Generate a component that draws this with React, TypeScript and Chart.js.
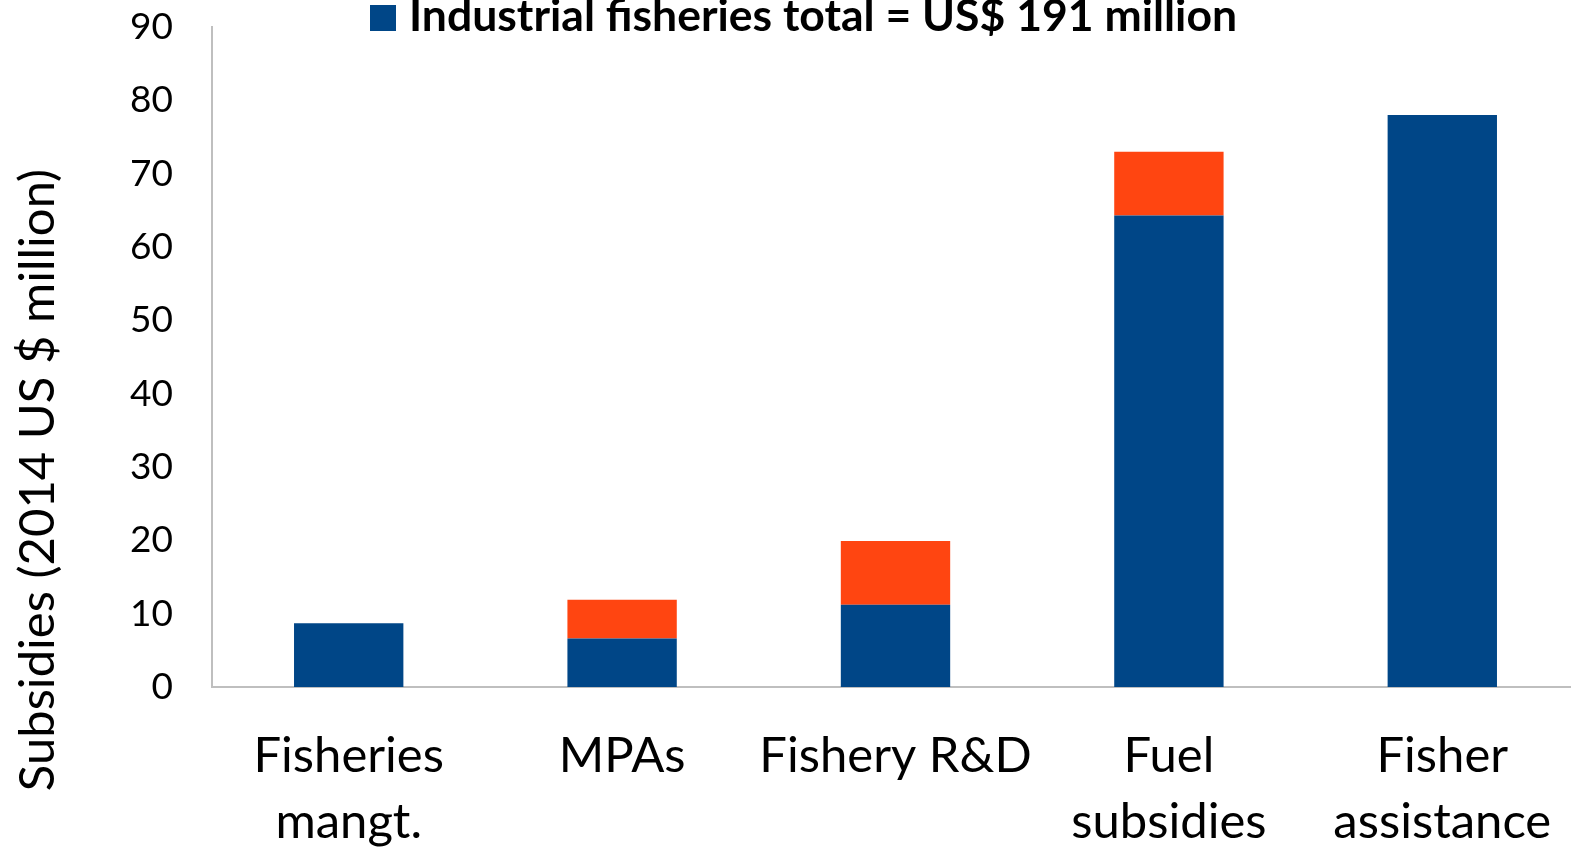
import React, { useEffect, useRef } from "react";
import { Chart, registerables } from "chart.js";

Chart.register(...registerables);

const categories: (string | string[])[] = [
  ["Fisheries", "mangt."],
  "MPAs",
  "Fishery R&D",
  ["Fuel", "subsidies"],
  ["Fisher", "assistance"],
];
const industrialValues = [8.7, 6.6, 11.2, 64.3, 78.0];
const otherValues = [0, 5.3, 8.7, 8.7, 0];
const industrialLabel = "Industrial fisheries total = US$ 191 million";
const otherLabel = "Artisanal fisheries";
const yTitle = "Subsidies (2014 US $ million)";
const yMin = 0;
const yMax = 90;
const yStep = 10;

const BLUE = "#004687";
const ORANGE = "#FF4511";
const AXIS = "#BFBFBF";
const FONT = "Lato, 'Open Sans', sans-serif";

const W = 1604;
const H = 847;

const legendAndTitle = {
  id: "legendAndTitle",
  afterDraw(chart: any) {
    const ctx = chart.ctx;
    // y-axis title
    ctx.save();
    ctx.translate(38, 480);
    ctx.rotate(-Math.PI / 2);
    ctx.font = `49px ${FONT}`;
    ctx.fillStyle = "#000";
    ctx.textAlign = "center";
    ctx.textBaseline = "middle";
    ctx.fillText(yTitle, 0, 0);
    ctx.restore();
    // legend (first dataset only)
    const ds = chart.data.datasets[0];
    ctx.save();
    ctx.fillStyle = ds.backgroundColor;
    ctx.fillRect(370, 5, 26, 26);
    ctx.font = `bold 44.5px ${FONT}`;
    ctx.fillStyle = "#000";
    ctx.textAlign = "left";
    ctx.textBaseline = "alphabetic";
    ctx.fillText(ds.label, 409, 31);
    ctx.restore();
  },
};

export default function App() {
  const ref = useRef<HTMLCanvasElement | null>(null);
  useEffect(() => {
    if (!ref.current) return;
    const chart = new Chart(ref.current, {
      type: "bar",
      data: {
        labels: categories,
        datasets: [
          {
            label: industrialLabel,
            data: industrialValues,
            backgroundColor: BLUE,
            barPercentage: 0.4,
            categoryPercentage: 1,
          },
          {
            label: otherLabel,
            data: otherValues,
            backgroundColor: ORANGE,
            barPercentage: 0.4,
            categoryPercentage: 1,
          },
        ],
      },
      options: {
        responsive: false,
        animation: false,
        devicePixelRatio: 1,
        layout: { padding: { left: 0, right: 25, top: 27, bottom: 0 } },
        plugins: {
          tooltip: { enabled: false },
          legend: { display: false },
        },
        scales: {
          x: {
            stacked: true,
            grid: { display: false },
            border: { display: true, color: AXIS, width: 2 },
            ticks: {
              color: "#000",
              font: { family: FONT, size: 49, lineHeight: 1.35 },
              padding: 28,
              maxRotation: 0,
              minRotation: 0,
              autoSkip: false,
            },
            afterFit: (s: any) => {
              s.height = 160;
              s.paddingLeft = 0;
              s.paddingRight = 0;
            },
          },
          y: {
            stacked: true,
            min: yMin,
            max: yMax,
            grid: { display: false },
            border: { display: true, color: AXIS, width: 2 },
            ticks: {
              stepSize: yStep,
              color: "#000",
              font: { family: FONT, size: 37 },
              padding: 31,
            },
            afterFit: (s: any) => {
              s.width = 212;
              s.paddingTop = 0;
              s.paddingBottom = 0;
            },
          },
        },
      },
      plugins: [legendAndTitle],
    });
    return () => chart.destroy();
  }, []);
  return (
    <div
      style={{
        position: "fixed",
        left: 0,
        top: 0,
        width: 1571,
        height: 847,
        overflow: "hidden",
        background: "#fff",
      }}
    >
      <canvas
        ref={ref}
        width={W}
        height={H}
        style={{ position: "absolute", left: 0, top: 0, width: W, height: H }}
      />
    </div>
  );
}
